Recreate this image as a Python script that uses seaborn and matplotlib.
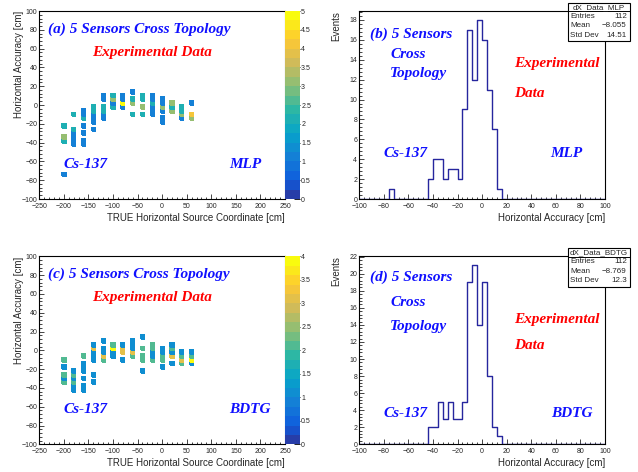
import numpy as np
import pandas as pd
import matplotlib
matplotlib.use("Agg")
import matplotlib.pyplot as plt
from matplotlib.colors import LinearSegmentedColormap, ListedColormap
from matplotlib.patches import Rectangle
from matplotlib.lines import Line2D
from matplotlib.ticker import MultipleLocator
import seaborn as sns

# 2D maps: (true source x [cm], accuracy bin centre [cm], entries)
mlp_cells = [
    (-200, -22, 2), (-200, -34, 3), (-200, -38, 2), (-200, -74, 1),
    (-180, -10, 2), (-180, -26, 2), (-180, -30, 1), (-180, -34, 1), (-180, -38, 1), (-180, -42, 1),
    (-160, -6, 1), (-160, -10, 1), (-160, -14, 2), (-160, -22, 1), (-160, -30, 1), (-160, -38, 1), (-160, -42, 1),
    (-140, -2, 2), (-140, -6, 2), (-140, -10, 1), (-140, -14, 1), (-140, -18, 1), (-140, -26, 1),
    (-120, 10, 1), (-120, 6, 1), (-120, -2, 2), (-120, -6, 2), (-120, -10, 1), (-120, -14, 1),
    (-100, 10, 2), (-100, 6, 3), (-100, 2, 1), (-100, -2, 2),
    (-80, 10, 1), (-80, 6, 1), (-80, 2, 5), (-80, -2, 1),
    (-60, 14, 1), (-60, 6, 2), (-60, 2, 3), (-60, -10, 2),
    (-40, 10, 2), (-40, 6, 2), (-40, -2, 3), (-40, -10, 2),
    (-20, 10, 1), (-20, 6, 1), (-20, 2, 2), (-20, -2, 1), (-20, -6, 1), (-20, -10, 1),
    (0, 6, 1), (0, 2, 1), (0, -2, 3), (0, -6, 1), (0, -14, 1), (0, -18, 1),
    (20, 2, 3), (20, -2, 2), (20, -6, 3),
    (40, -2, 2), (40, -6, 2), (40, -10, 3), (40, -14, 1),
    (60, 2, 1), (60, -10, 4), (60, -14, 3),
]
bdtg_cells = [
    (-200, -10, 2), (-200, -18, 1), (-200, -26, 2), (-200, -30, 1), (-200, -34, 2),
    (-180, -22, 1), (-180, -26, 2), (-180, -30, 1), (-180, -34, 2), (-180, -38, 1), (-180, -42, 1),
    (-160, -6, 2), (-160, -14, 1), (-160, -18, 1), (-160, -22, 1), (-160, -30, 1), (-160, -38, 1), (-160, -42, 1),
    (-140, 6, 1), (-140, 2, 3), (-140, -2, 1), (-140, -6, 1), (-140, -10, 1), (-140, -26, 1), (-140, -34, 1),
    (-120, 10, 1), (-120, 2, 1), (-120, -2, 1), (-120, -6, 3), (-120, -10, 2),
    (-100, 6, 2), (-100, 2, 4), (-100, -2, 1), (-100, -6, 1),
    (-80, 6, 1), (-80, 2, 3), (-80, -2, 3), (-80, -10, 1),
    (-60, 10, 1), (-60, 6, 1), (-60, 2, 1), (-60, -2, 3), (-60, -6, 2),
    (-40, 14, 1), (-40, 2, 2), (-40, -6, 2), (-40, -10, 2), (-40, -22, 1),
    (-20, 6, 2), (-20, 2, 2), (-20, -2, 1), (-20, -6, 1), (-20, -10, 2),
    (0, 2, 1), (0, -2, 1), (0, -6, 2), (0, -10, 2), (0, -18, 1),
    (20, 6, 1), (20, 2, 2), (20, -2, 1), (20, -6, 3), (20, -14, 1),
    (40, -2, 1), (40, -6, 2), (40, -10, 3), (40, -14, 2),
    (60, -2, 1), (60, -6, 2), (60, -10, 4), (60, -14, 1),
]

# 1D projections: bin centres [cm] and events (4 cm bins)
mlp_centres = [-74, -42, -38, -34, -30, -26, -22, -18, -14, -10, -6, -2, 2, 6, 10, 14]
mlp_events = [1, 2, 4, 4, 2, 3, 3, 2, 9, 17, 12, 18, 16, 11, 7, 1]
bdtg_centres = [-42, -38, -34, -30, -26, -22, -18, -14, -10, -6, -2, 2, 6, 10, 14]
bdtg_events = [2, 2, 5, 3, 5, 3, 3, 5, 19, 21, 14, 19, 8, 2, 1]

stat_names = ["dX_Data_MLP", "dX_Data_BDTG"]
stat_entries = [112, 112]
stat_means = ["\u22128.055", "\u22128.769"]
stat_stds = ["14.51", "12.3"]

W, H = 638, 472
sns.set_style("ticks")
plt.rcParams["font.family"] = ["Liberation Sans", "DejaVu Sans"]
plt.rcParams["axes.linewidth"] = 0.8

# ROOT kBird palette, 20 contour levels
bird_rgb = [
    (0.2082, 0.1664, 0.5293), (0.0592, 0.3599, 0.8684), (0.0780, 0.5041, 0.8385),
    (0.0232, 0.6419, 0.7914), (0.1802, 0.7178, 0.6425), (0.5301, 0.7492, 0.4662),
    (0.8186, 0.7328, 0.3499), (0.9956, 0.7862, 0.1968), (0.9764, 0.9832, 0.0539),
]
bird = LinearSegmentedColormap.from_list("bird", list(zip(np.linspace(0, 1, 9), bird_rgb)))
palette = ListedColormap(bird((np.arange(20) + 0.99) / 20))

hist_blue = "#26269e"
txt_blue = "#1010ff"
txt_red = "#ff0000"
serif = dict(family=["Liberation Serif", "DejaVu Serif"], weight="bold", style="italic", fontsize=11)


def px_axes(x0, x1, y0, y1):
    return fig.add_axes([x0 / W, 1 - y1 / H, (x1 - x0) / W, (y1 - y0) / H])


def style_axes(ax, xmaj, xmin, ymaj, ymin):
    ax.xaxis.set_major_locator(MultipleLocator(xmaj))
    ax.xaxis.set_minor_locator(MultipleLocator(xmin))
    ax.yaxis.set_major_locator(MultipleLocator(ymaj))
    ax.yaxis.set_minor_locator(MultipleLocator(ymin))
    ax.tick_params(which="both", direction="in", labelsize=5, width=0.6)
    ax.tick_params(axis="x", pad=2.6)
    ax.tick_params(axis="y", pad=1.5)
    ax.tick_params(which="major", length=3.5)
    ax.tick_params(which="minor", length=1.8)
    for s in ax.spines.values():
        s.set_visible(True)
        s.set_color("black")


def label_texts(ax, items):
    for text, x, y, col in items:
        ax.text(x, y, text, transform=ax.transAxes, color=col, ha="left", va="center", **serif)


def stats_box(x0, y0, i):
    w, h = 62, 38.3
    fig.add_artist(Rectangle((x0 / W, 1 - (y0 + h) / H), w / W, h / H,
                             transform=fig.transFigure, facecolor="white", edgecolor="black", linewidth=0.8))
    fig.add_artist(Line2D([x0 / W, (x0 + w) / W], [1 - (y0 + 8.6) / H] * 2,
                          transform=fig.transFigure, color="black", linewidth=0.7))
    fig.text((x0 + w / 2) / W, 1 - (y0 + 4.6) / H, stat_names[i], ha="center", va="center", fontsize=5.8)
    rows = [("Entries", str(stat_entries[i])), ("Mean", stat_means[i]), ("Std Dev", stat_stds[i])]
    for k, (name, val) in enumerate(rows):
        yy = 1 - (y0 + 13.6 + 9.5 * k) / H
        fig.text((x0 + 2.2) / W, yy, name, ha="left", va="center", fontsize=5.8)
        fig.text((x0 + w - 3.2) / W, yy, val, ha="right", va="center", fontsize=5.8)


def heat_panel(ax, cax, cells, zmax, tag, method):
    df = pd.DataFrame(cells, columns=["x", "dx", "n"])
    sns.histplot(data=df, x="x", y="dx", weights="n", bins=(75, 50),
                 binrange=((-250, 250), (-100, 100)),
                 cmap=palette, vmin=0, vmax=zmax, cbar=True, cbar_ax=cax, ax=ax,
                 edgecolor="face", linewidth=0.3)
    ax.set_xlim(-250, 250)
    ax.set_ylim(-100, 100)
    style_axes(ax, 50, 10, 20, 4)
    ax.spines["right"].set_color("#666666")
    ax.set_xlabel("TRUE Horizontal Source Coordinate [cm]", fontsize=7, loc="right")
    ax.xaxis.set_label_coords(1.0, -0.075)
    ax.set_ylabel("Horizontal Accuracy [cm]", fontsize=7, loc="top")
    ax.yaxis.set_label_coords(-0.062, 1.0)
    cax.yaxis.set_major_locator(MultipleLocator(0.5))
    cax.yaxis.set_major_formatter(plt.FuncFormatter(lambda v, p: f"{v:g}"))
    cax.tick_params(direction="in", labelsize=5, length=4, width=0.7, pad=0.8, color="#222222")
    for s in cax.spines.values():
        s.set_visible(False)
    label_texts(ax, [
        (f"({tag}) 5 Sensors Cross Topology", 0.035, 0.902, txt_blue),
        ("Experimental Data", 0.215, 0.78, txt_red),
        ("Cs-137", 0.097, 0.185, txt_blue),
        (method, 0.771, 0.185, txt_blue),
    ])


def hist_panel(ax, centres, events, ymax, tag, method, ys):
    df = pd.DataFrame({"dx": centres, "n": events})
    sns.histplot(data=df, x="dx", weights="n", bins=50, binrange=(-100, 100),
                 element="step", fill=False, color=hist_blue, linewidth=1.0, ax=ax)
    ax.set_xlim(-100, 100)
    ax.set_ylim(0, ymax)
    style_axes(ax, 20, 4, 2, 0.4)
    ax.set_xlabel("Horizontal Accuracy [cm]", fontsize=7, loc="right")
    ax.xaxis.set_label_coords(1.0, -0.075)
    ax.set_ylabel("Events", fontsize=7, loc="top")
    ax.yaxis.set_label_coords(-0.075, 1.0)
    label_texts(ax, [
        (f"({tag}) 5 Sensors", 0.044, ys[0], txt_blue),
        ("Cross", 0.125, ys[1], txt_blue),
        ("Topology", 0.125, ys[2], txt_blue),
        ("Experimental", 0.63, ys[3], txt_red),
        ("Data", 0.63, ys[4], txt_red),
        ("Cs-137", 0.098, ys[5], txt_blue),
        (method, 0.779, ys[5], txt_blue),
    ])


fig = plt.figure(figsize=(W / 100, H / 100), dpi=100)

ax_a = px_axes(39.3, 285, 11, 199)
cax_a = px_axes(285, 300, 11, 199)
heat_panel(ax_a, cax_a, mlp_cells, 5, "a", "MLP")

ax_c = px_axes(39.3, 285, 256.3, 444.3)
cax_c = px_axes(285, 300, 256.3, 444.3)
heat_panel(ax_c, cax_c, bdtg_cells, 4, "c", "BDTG")

ax_b = px_axes(359.3, 605, 11, 199)
hist_panel(ax_b, mlp_centres, mlp_events, 18.9, "b", "MLP",
           [0.878, 0.771, 0.665, 0.722, 0.562, 0.243])
stats_box(568, 2.7, 0)

ax_d = px_axes(359.3, 605, 256.3, 444.3)
hist_panel(ax_d, bdtg_centres, bdtg_events, 22.05, "d", "BDTG",
           [0.891, 0.753, 0.626, 0.665, 0.528, 0.165])
stats_box(568, 248.3, 1)

fig.savefig("out.png", dpi=100, facecolor="white")
